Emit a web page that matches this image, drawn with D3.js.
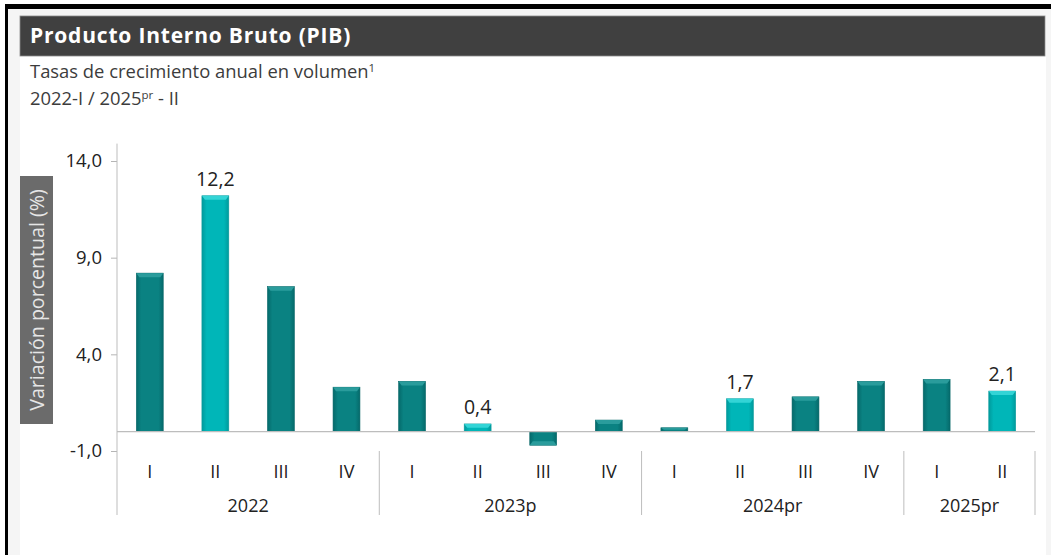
<!DOCTYPE html>
<html>
<head>
<meta charset="utf-8">
<script src="https://cdn.jsdelivr.net/npm/d3@7"></script>
<style>
  body { margin: 0; background: #fff; }
  svg { display: block; font-family: "Open Sans", sans-serif; }
</style>
</head>
<body>
<div id="wrapper"></div>
<script>
// data
const years = ["2022", "2023p", "2024pr", "2025pr"];
const quarters = ["I", "II", "III", "IV", "I", "II", "III", "IV", "I", "II", "III", "IV", "I", "II"];
const quarterYear = [0, 0, 0, 0, 1, 1, 1, 1, 2, 2, 2, 2, 3, 3];
const values = [8.2, 12.2, 7.5, 2.3, 2.6, 0.4, -0.7, 0.6, 0.2, 1.7, 1.8, 2.6, 2.7, 2.1];
const highlighted = [1, 5, 9, 13]; // segundo trimestre, con etiqueta
const yTicks = [-1, 4, 9, 14];

const fmt = (v) => d3.format(".1f")(v).replace(".", ",").replace("\u2212", "-");

const dimensions = { width: 1051, height: 555 };
const plot = { left: 117, right: 1035, top: 161, bottom: 451 };

const svg = d3
  .select("#wrapper")
  .append("svg")
  .attr("width", dimensions.width)
  .attr("height", dimensions.height);

// frame
svg.append("rect").attr("width", dimensions.width).attr("height", dimensions.height).attr("fill", "#f5f5f5");
svg.append("rect").attr("x", 0).attr("y", 0).attr("width", dimensions.width).attr("height", 4).attr("fill", "#fff");
svg.append("rect").attr("x", 0).attr("y", 0).attr("width", 5).attr("height", dimensions.height).attr("fill", "#fff");
svg.append("rect").attr("x", 5).attr("y", 4).attr("width", dimensions.width - 5).attr("height", 5).attr("fill", "#000");
svg.append("rect").attr("x", 5).attr("y", 4).attr("width", 3).attr("height", dimensions.height - 4).attr("fill", "#000");
svg.append("rect").attr("x", 20).attr("y", 16).attr("width", 1026).attr("height", dimensions.height - 16).attr("fill", "#fff");

// title bar
svg.append("rect").attr("x", 20).attr("y", 16).attr("width", 1025).attr("height", 40)
  .attr("fill", "#404040").attr("stroke", "#8a8a8a").attr("stroke-width", 0.8);
svg.append("text").attr("x", 30).attr("y", 43).attr("fill", "#fff")
  .attr("font-size", 21).attr("letter-spacing", 0.8).attr("font-weight", 700)
  .text("Producto Interno Bruto (PIB)");

const sub1 = svg.append("text").attr("x", 30).attr("y", 78).attr("fill", "#3c3c3c").attr("font-size", 18.4);
sub1.append("tspan").text("Tasas de crecimiento anual en volumen");
sub1.append("tspan").attr("font-size", 11.5).attr("dy", -6).text("1");
const sub2 = svg.append("text").attr("x", 30).attr("y", 105).attr("fill", "#3c3c3c").attr("font-size", 18.4);
sub2.append("tspan").text("2022-I / 2025");
sub2.append("tspan").attr("font-size", 11.5).attr("dy", -6).text("pr");
sub2.append("tspan").attr("dy", 6).text(" - II");

// scales
const yScale = d3.scaleLinear().domain([-1, 14]).range([plot.bottom, plot.top]);
const xScale = d3.scaleBand().domain(d3.range(values.length))
  .range([plot.left, plot.right]).paddingInner(0.59).paddingOuter(0.295);

// gradients
const defs = svg.append("defs");
function addGrad(id, edge, mid) {
  const g = defs.append("linearGradient").attr("id", id).attr("x1", 0).attr("x2", 1).attr("y1", 0).attr("y2", 0);
  g.append("stop").attr("offset", "0%").attr("stop-color", edge);
  g.append("stop").attr("offset", "18%").attr("stop-color", mid);
  g.append("stop").attr("offset", "82%").attr("stop-color", mid);
  g.append("stop").attr("offset", "100%").attr("stop-color", edge);
}
addGrad("gDark", "#056a6b", "#0a8282");
addGrad("gLight", "#009a9c", "#00b6b8");

// y axis
const yAxis = svg.append("g").attr("transform", `translate(${plot.left},0)`)
  .call(d3.axisLeft(yScale).tickValues(yTicks).tickSize(6).tickPadding(9).tickFormat(fmt));
yAxis.select(".domain").remove();
yAxis.selectAll(".tick line").attr("stroke", "#b5b5b5");
yAxis.selectAll(".tick text").attr("font-size", 18.5).attr("fill", "#222").attr("font-family", "Open Sans, sans-serif");
svg.append("line").attr("x1", plot.left).attr("x2", plot.left)
  .attr("y1", yScale(14.9)).attr("y2", 515).attr("stroke", "#bdbdbd");

// y title
svg.append("rect").attr("x", 20).attr("y", 176).attr("width", 33).attr("height", 248).attr("fill", "#6b6b6b");
svg.append("text").attr("transform", "translate(44,300) rotate(-90)")
  .attr("text-anchor", "middle").attr("font-size", 19.6).attr("fill", "#e6e6e6").text("Variación porcentual (%)");

// bars
const bars = svg.append("g").selectAll("g").data(values).join("g");
bars.append("rect")
  .attr("x", (d, i) => xScale(i))
  .attr("width", xScale.bandwidth())
  .attr("y", (d) => yScale(Math.max(0, d)))
  .attr("height", (d) => Math.abs(yScale(d) - yScale(0)))
  .attr("fill", (d, i) => highlighted.includes(i) ? "url(#gLight)" : "url(#gDark)")
  .attr("stroke", (d, i) => highlighted.includes(i) ? "#0a9a9c" : "#066566")
  .attr("stroke-width", 0.6);
// bevel on the outer end
bars.append("path")
  .attr("d", (d, i) => {
    const x0 = xScale(i), w = xScale.bandwidth();
    const yEnd = yScale(d), s = d >= 0 ? 1 : -1;
    const h = Math.min(4, Math.abs(yScale(d) - yScale(0)) / 2);
    return `M${x0},${yEnd}L${x0 + w},${yEnd}L${x0 + w - 3},${yEnd + s * h}L${x0 + 3},${yEnd + s * h}Z`;
  })
  .attr("fill", (d, i) => highlighted.includes(i) ? "#33d4d6" : "#2a9c9c");

// zero line
svg.append("line").attr("x1", plot.left).attr("x2", plot.right)
  .attr("y1", yScale(0)).attr("y2", yScale(0)).attr("stroke", "#bdbdbd").attr("stroke-width", 1.2);

// value labels
svg.append("g").selectAll("text").data(highlighted).join("text")
  .attr("x", (i) => xScale(i) + xScale.bandwidth() / 2)
  .attr("y", (i) => yScale(values[i]) - 10)
  .attr("text-anchor", "middle").attr("font-size", 19.5).attr("fill", "#222")
  .text((i) => fmt(values[i]));

// category axis
svg.append("g").selectAll("text").data(quarters).join("text")
  .attr("x", (d, i) => xScale(i) + xScale.bandwidth() / 2)
  .attr("y", 478).attr("text-anchor", "middle").attr("font-size", 18).attr("fill", "#222")
  .text((d) => d);

const yearSpans = years.map((y, k) => {
  const idx = quarterYear.map((q, i) => q === k ? i : -1).filter((i) => i >= 0);
  return { name: y, start: xScale(idx[0]) - xScale.step() * xScale.paddingInner() / 2,
           end: xScale(idx[idx.length - 1]) + xScale.bandwidth() + xScale.step() * xScale.paddingInner() / 2 };
});
svg.append("g").selectAll("text").data(yearSpans).join("text")
  .attr("x", (d) => (d.start + d.end) / 2).attr("y", 512)
  .attr("text-anchor", "middle").attr("font-size", 18).attr("fill", "#222").text((d) => d.name);
svg.append("g").selectAll("line").data(yearSpans).join("line")
  .attr("x1", (d) => d.end).attr("x2", (d) => d.end)
  .attr("y1", 451).attr("y2", 515).attr("stroke", "#bdbdbd");
</script>
</body>
</html>
